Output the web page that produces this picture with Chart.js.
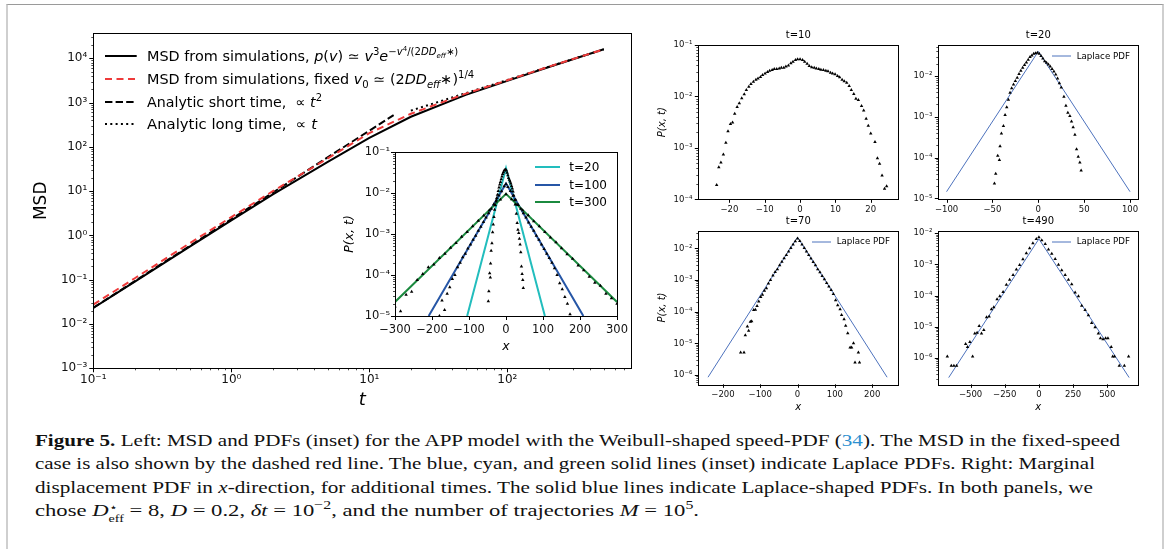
<!DOCTYPE html>
<html>
<head>
<meta charset="utf-8">
<title>Figure 5</title>
<script src="https://cdn.jsdelivr.net/npm/chart.js@4.4.1/dist/chart.umd.min.js"></script>
<style>
  html, body { margin: 0; padding: 0; background: #fff; }
  #fig { position: relative; width: 1165px; height: 549px; overflow: hidden; background: #fff; }
  #fig canvas { position: absolute; }
  #frame { position: absolute; left: 6px; top: 4px; width: 1154px; height: 620px;
           border-top: 1px solid #9a9a9a; border-left: 2px solid #cfcfcf; border-right: 2px solid #cfcfcf; }
  .lg { position: absolute; white-space: nowrap; font-family: "DejaVu Sans", sans-serif; color: #000; transform-origin: 0 50%; }
  .cap { position: absolute; left: 35px; white-space: nowrap; font-family: "Liberation Serif", serif;
         font-size: 17.5px; line-height: 22px; color: #111; transform-origin: 0 50%; }
  .cap .ref { color: #2b8fd0; }
  .cap .ss { display: inline-block; vertical-align: -0.55em; font-size: 0.62em; line-height: 1.05; }
  .cap .ss span { display: block; }
  sup, sub { font-size: 0.7em; line-height: 0; }
</style>
</head>
<body>
<div id="fig"><div id="frame"></div></div>
<script>
// ---- left panel: MSD vs t ----
const tSim = [0.1, 0.2, 0.5, 1, 2, 5, 10, 20, 50, 100, 200, 500];
const msdWeibull = [0.023, 0.091, 0.56, 2.2, 8.5, 46, 160, 480, 1500, 3100, 6400, 16000];
const msdFixed = [0.0275, 0.108, 0.67, 2.6, 10, 55, 205, 560, 1600, 3200, 6500, 16000];
const tShort = [0.1, 15];
const msdShort = [0.0233, 524];
const tLong = [20, 500];
const msdLong = [660, 16000];

// ---- inset: PDFs at t=20, 100, 300 ----
const lap20X = [-105, 0, 105], lap20Y = [1e-5, 0.040, 1e-5];
const lap100X = [-209, 0, 209], lap100Y = [1e-5, 0.017, 1e-5];
const lap300X = [-300, 0, 300], lap300Y = [2.2e-5, 0.0095, 2.2e-5];

const pdf20X = [-47.8, -46.4, -44.2, -42.4, -41.7, -40.2, -38.0, -36.2, -34.4, -32.6, -30.8, -29.0, -27.0, -25.0, -23.0,
  -21.0, -19.0, -17.0, -15.0, -13.0, -11.0, -9.0, -7.0, -5.0, -3.0, -1.0, 1.0, 3.0, 5.0, 7.0, 9.0, 11.0, 13.0, 15.0,
  17.0, 19.0, 21.0, 23.0, 25.0, 27.9, 30.1, 32.2, 34.4, 36.2, 38.0, 39.9, 41.7, 43.5, 45.3, 46.7];
const pdf20Y = [2.3e-5, 4.0e-5, 1.1e-4, 8.7e-5, 1.9e-4, 3.9e-4, 5.9e-4, 1.1e-3, 1.7e-3, 2.6e-3, 3.9e-3, 5.0e-3, 6.2e-3, 7.5e-3, 9.0e-3,
  0.0112, 0.0135, 0.016, 0.0185, 0.0215, 0.025, 0.029, 0.032, 0.035, 0.036, 0.037, 0.035, 0.031, 0.027, 0.023, 0.021, 0.019, 0.017, 0.0148,
  0.0128, 0.0108, 0.0087, 0.0066, 0.0052, 3.1e-3, 1.85e-3, 1.26e-3, 1.05e-3, 7.6e-4, 5.5e-4, 3.6e-4, 1.6e-4, 1.05e-4, 7.5e-5, 4.8e-5];

const pdf100X = [-180, -173, -166, -159, -152, -145, -138, -131, -124, -117, -110, -103, -96, -89, -82, -75, -68, -61, -54, -47,
  -40, -33, -26, -19, -12, -5, 0, 5, 12, 19, 26, 33, 40, 47, 54, 61, 68, 75, 82, 89, 96, 103, 110, 117, 124, 131, 138, 145,
  152, 159, 166, 173, 180];
const pdf100Y = [1.0e-5, 2.4e-5, 1.4e-5, 3.5e-5, 5.0e-5, 8.0e-5, 1.0e-4, 1.55e-4, 2.0e-4, 2.7e-4, 3.3e-4, 4.4e-4, 5.5e-4, 7.2e-4,
  9.0e-4, 1.2e-3, 1.5e-3, 1.95e-3, 2.5e-3, 3.2e-3, 4.1e-3, 5.3e-3, 6.6e-3, 8.7e-3, 0.011, 0.0145, 0.0165, 0.014, 0.0112, 8.5e-3,
  6.8e-3, 5.1e-3, 4.1e-3, 3.2e-3, 2.5e-3, 1.9e-3, 1.5e-3, 1.2e-3, 9.0e-4, 7.2e-4, 5.5e-4, 4.3e-4, 3.3e-4, 2.6e-4, 2.0e-4,
  1.45e-4, 1.0e-4, 6.3e-5, 4.5e-5, 2.9e-5, 2.0e-5, 1.1e-5, 8e-6];

const pdf300X = [-300, -285, -270, -255, -240, -225, -210, -195, -180, -165, -150, -135, -120, -105, -90, -75, -60, -45, -30, -15,
  0, 15, 30, 45, 60, 75, 90, 105, 120, 135, 150, 165, 180, 195, 210, 225, 240, 255, 270, 285, 300];
const pdf300Y = [1.7e-5, 1.3e-5, 3.3e-5, 3.9e-5, 7.5e-5, 1.05e-4, 1.55e-4, 1.8e-4, 2.6e-4, 3.3e-4, 4.6e-4, 6.0e-4, 8.6e-4, 1.12e-3,
  1.55e-3, 2.1e-3, 2.8e-3, 3.8e-3, 5.1e-3, 6.9e-3, 9.3e-3, 7.0e-3, 5.2e-3, 3.8e-3, 2.85e-3, 2.05e-3, 1.55e-3, 1.12e-3, 8.2e-4,
  6.3e-4, 4.5e-4, 3.2e-4, 2.5e-4, 1.7e-4, 1.3e-4, 9e-5, 6.5e-5, 5.5e-5, 3.5e-5, 2.7e-5, 2.0e-5];

// ---- right panels ----
const pdf10X = [-23.6, -23.0, -22.4, -21.7, -21.0, -20.4, -19.7, -19.1, -18.5, -17.8, -17.2, -16.5, -15.8, -15.2, -14.5, -13.9,
  -13.2, -12.5, -11.9, -11.2, -10.6, -9.9, -9.2, -8.6, -7.9, -7.3, -6.6, -5.9, -5.3, -4.6, -4.0, -3.3, -2.6, -2.0, -1.3, -0.7,
  0, 0.7, 1.3, 2.0, 2.6, 3.3, 4.0, 4.6, 5.3, 5.9, 6.6, 7.3, 7.9, 8.6, 9.2, 9.9, 10.6, 11.2, 11.9, 12.5, 13.2, 13.9, 14.5, 15.2,
  15.8, 16.5, 17.4, 18.0, 18.7, 19.3, 20.0, 21.2, 21.9, 22.5, 23.2, 23.9, 24.5];
const pdf10Y = [1.9e-4, 4.2e-4, 5.2e-4, 7.4e-4, 1.26e-3, 2.1e-3, 2.9e-3, 3.1e-3, 4.6e-3, 6.2e-3, 7.4e-3, 9.2e-3, 0.011, 0.0134,
  0.0155, 0.0175, 0.0194, 0.021, 0.0222, 0.024, 0.026, 0.028, 0.030, 0.0316, 0.0325, 0.034, 0.034, 0.035, 0.036, 0.036, 0.038,
  0.040, 0.044, 0.047, 0.051, 0.053, 0.053, 0.051, 0.047, 0.043, 0.039, 0.037, 0.036, 0.035, 0.034, 0.033, 0.0325, 0.0316,
  0.031, 0.029, 0.028, 0.027, 0.025, 0.0236, 0.021, 0.0197, 0.0185, 0.016, 0.0134, 0.0112, 0.009, 0.0085, 0.0065, 0.0053,
  0.0037, 0.0027, 0.0019, 0.0013, 6.3e-4, 4.9e-4, 2.9e-4, 1.6e-4, 1.8e-4];

const lapB_X = [-100, 0, 100], lapB_Y = [1.45e-5, 0.040, 1.45e-5];

const pdf70X = [-152.5, -143.5, -140, -134.5, -131, -126.5, -123, -117.5, -113, -108.5, -104, -98.7, -94, -88.8, -83.4, -78, -72.6,
  -66, -60, -54, -48, -42, -36, -30, -24, -18, -12, -6, 0, 6, 12, 18, 24, 30, 36, 42, 48, 54, 60, 66, 72, 78, 84, 90,
  96, 102, 107.6, 114, 118, 124.7, 129, 134.5, 140.8, 145, 150, 154, 163, 166];
const pdf70Y = [5.1e-6, 5.1e-6, 1.8e-5, 3.4e-5, 2.5e-5, 4.8e-5, 5.0e-5, 1.12e-4, 1.15e-4, 1.5e-4, 2.1e-4, 2.9e-4, 3.4e-4, 4.6e-4,
  5.5e-4, 7.8e-4, 1.0e-3, 1.4e-3, 1.8e-3, 2.2e-3, 2.9e-3, 3.8e-3, 4.9e-3, 6.2e-3, 8.0e-3, 0.0102, 0.0132, 0.0168, 0.0205,
  0.017, 0.0132, 0.0103, 8.0e-3, 6.2e-3, 4.8e-3, 3.7e-3, 2.9e-3, 2.2e-3, 1.75e-3, 1.35e-3, 1.05e-3, 8.0e-4, 6.2e-4, 4.8e-4,
  3.6e-4, 2.3e-4, 1.6e-4, 1.2e-4, 7.8e-5, 5.8e-5, 3.6e-5, 2.1e-5, 7.4e-6, 7.4e-6, 1.0e-5, 2.5e-6, 5.1e-6, 2.5e-6];
const lap70X = [-240, 0, 240], lap70Y = [8.5e-7, 0.0224, 8.5e-7];

const pdf490X = [-670, -641, -622, -602, -536, -522, -505, -485, -469, -452, -437, -420, -403, -383, -364, -347, -330, -306, -286,
  -262, -238, -214, -189, -165, -141, -117, -92, -68, -44, -19, 0, 21, 46, 70, 94, 119, 143, 167, 192, 216, 240, 265, 289, 313,
  338, 362, 386, 411, 435, 450, 469, 488, 505, 529, 540, 553, 588, 625, 656];
const pdf490Y = [1.1e-6, 5.5e-7, 5.5e-7, 5.5e-7, 2.75e-6, 2.2e-6, 3.2e-6, 1.1e-6, 6e-6, 6.3e-6, 1.05e-5, 6e-6, 7.8e-6, 2e-5,
  2.1e-5, 3.6e-5, 4.2e-5, 7.6e-5, 9.5e-5, 1.3e-4, 2.2e-4, 3.2e-4, 4.6e-4, 6.9e-4, 9.6e-4, 1.45e-3, 2.3e-3, 3.3e-3, 4.8e-3,
  6.6e-3, 7.5e-3, 6.0e-3, 4.5e-3, 3.0e-3, 2.2e-3, 1.5e-3, 9.8e-4, 6.5e-4, 4.6e-4, 3.2e-4, 2.3e-4, 1.25e-4, 9.5e-5, 4.7e-5,
  3.4e-5, 2.3e-5, 1.3e-5, 9.5e-6, 6e-6, 4.2e-6, 3.9e-6, 4.2e-6, 4.2e-6, 2.2e-6, 1.1e-6, 1.1e-6, 5.5e-7, 5.5e-7, 1.1e-6];
const lap490X = [-660, 0, 660], lap490Y = [2.3e-7, 0.0066, 2.3e-7];

// tick labels of the linear x axes
const insetTicks = [-300, -200, -100, 0, 100, 200, 300];
const ticksA = [-20, -10, 0, 10, 20];
const ticksB = [-100, -50, 0, 50, 100];
const ticksC = [-200, -100, 0, 100, 200];
const ticksD = [-500, -250, 0, 250, 500];

const fig = document.getElementById('fig');
const SUP = {'-': '⁻', '0': '⁰', '1': '¹', '2': '²', '3': '³', '4': '⁴', '5': '⁵', '6': '⁶', '7': '⁷', '8': '⁸', '9': '⁹'};

function powLabel(v) {
  const e = Math.log10(v), r = Math.round(e);
  if (Math.abs(e - r) > 1e-6) return '';
  return '10' + String(r).split('').map(c => SUP[c]).join('');
}
function linLabel(v) { return v < 0 ? '\u2212' + Math.abs(v) : String(v); }
function logTicks(min, max) {
  const out = [];
  for (let e = Math.floor(Math.log10(min)); e <= Math.ceil(Math.log10(max)); e++) {
    for (let m = 1; m < 10; m++) {
      const v = m * Math.pow(10, e);
      if (v >= min * 0.9999 && v <= max * 1.0001) out.push(v);
    }
  }
  return out;
}
function pts(xs, ys) { return xs.map((x, i) => ({x: x, y: ys[i]})); }

// draws the axes box and outward tick marks (matplotlib style)
const axesBox = {
  id: 'axesBox',
  beforeDraw(chart, args, o) {
    if (!o.fill) return;
    const {ctx, chartArea: a} = chart;
    ctx.save(); ctx.fillStyle = '#fff';
    ctx.fillRect(a.left, a.top, a.right - a.left, a.bottom - a.top);
    ctx.restore();
  },
  afterDraw(chart, args, o) {
    const {ctx, chartArea: a} = chart;
    ctx.save();
    ctx.strokeStyle = '#000';
    ctx.lineWidth = 1;
    ctx.strokeRect(Math.round(a.left) + 0.5, Math.round(a.top) + 0.5, Math.round(a.right - a.left), Math.round(a.bottom - a.top));
    ['x', 'y'].forEach(id => {
      const s = chart.scales[id];
      s.ticks.forEach(t => {
        const major = s.type !== 'logarithmic' || powLabel(t.value) !== '';
        const len = major ? o.major : o.minor;
        const p = Math.round(s.getPixelForValue(t.value)) + 0.5;
        ctx.lineWidth = major ? 1 : 0.7;
        ctx.beginPath();
        if (id === 'x') { ctx.moveTo(p, a.bottom); ctx.lineTo(p, a.bottom + len); }
        else { ctx.moveTo(a.left, p); ctx.lineTo(a.left - len, p); }
        ctx.stroke();
      });
    });
    ctx.restore();
  }
};
Chart.register(axesBox);

function makeChart(box, area, o) {
  const cv = document.createElement('canvas');
  cv.width = box.w; cv.height = box.h;
  cv.style.left = box.x + 'px'; cv.style.top = box.y + 'px';
  cv.style.width = box.w + 'px'; cv.style.height = box.h + 'px';
  fig.appendChild(cv);
  const L = area.l - box.x, T = area.t - box.y, R = area.r - box.x, B = area.b - box.y;

  let title = {display: false}, padTop = T;
  if (o.title) {
    const lh = o.title.size * 1.2, pt = o.title.y - box.y - lh / 2;
    title = {display: true, text: o.title.text, fullSize: false, color: '#000',
      font: {family: 'DejaVu Sans', size: o.title.size, weight: 'normal'},
      padding: {top: pt, bottom: T - lh - pt}};
    padTop = 0;
  }
  const tickFont = {family: 'DejaVu Sans', size: o.tick};
  const x = {
    type: o.xType, min: o.xMin, max: o.xMax, bounds: 'data',
    grid: {display: false, drawTicks: false}, border: {display: false},
    ticks: {autoSkip: false, maxRotation: 0, minRotation: 0, padding: o.xPad, color: '#111', font: tickFont,
      callback: o.xType === 'logarithmic' ? v => powLabel(v) : v => linLabel(v)},
    afterBuildTicks: s => { s.ticks = o.xTicks.map(v => ({value: v})); },
    afterFit: s => { s.height = box.h - B; },
    title: o.xTitle ? {display: true, text: o.xTitle.text, color: '#000',
      font: {family: 'DejaVu Sans', size: o.xTitle.size, style: o.xTitle.style || 'normal'},
      padding: {top: 0, bottom: box.h - (o.xTitle.y - box.y) - 0.6 * o.xTitle.size}} : {display: false}
  };
  const y = {
    type: 'logarithmic', min: o.yMin, max: o.yMax, bounds: 'data',
    grid: {display: false, drawTicks: false}, border: {display: false},
    ticks: {autoSkip: false, padding: o.yPad, color: '#111', font: tickFont, callback: v => powLabel(v)},
    afterBuildTicks: s => { s.ticks = logTicks(o.yMin, o.yMax).map(v => ({value: v})); },
    afterFit: s => { s.width = L; },
    title: o.yTitle ? {display: true, text: o.yTitle.text, color: '#000',
      font: {family: 'DejaVu Sans', size: o.yTitle.size, style: o.yTitle.style || 'normal'},
      padding: {top: o.yTitle.x - box.x - 0.6 * o.yTitle.size, bottom: 0}} : {display: false}
  };
  return new Chart(cv, {
    type: 'line',
    data: {datasets: o.datasets},
    options: {
      responsive: false, animation: false, devicePixelRatio: 1,
      layout: {padding: {left: 0, top: padTop, right: box.w - R, bottom: 0}},
      plugins: {legend: {display: false}, tooltip: {enabled: false}, title: title,
        axesBox: {major: o.major, minor: o.minor, fill: !!o.fill}},
      scales: {x: x, y: y}
    }
  });
}

function lineSet(xs, ys, color, width, dash, order) {
  return {data: pts(xs, ys), borderColor: color, borderWidth: width, borderDash: dash || [], pointRadius: 0,
    tension: 0, fill: false, order: order || 0};
}
function markSet(xs, ys, r) {
  return {data: pts(xs, ys), showLine: false, pointStyle: 'triangle', pointRadius: r, pointBackgroundColor: '#000',
    pointBorderWidth: 0, borderColor: '#000', order: 0};
}

// ---- main MSD chart ----
makeChart({x: 20, y: 0, w: 640, h: 420}, {l: 93.3, t: 33.3, r: 631.3, b: 368.3}, {
  xType: 'logarithmic', xMin: 0.1, xMax: 791, xTicks: logTicks(0.1, 791),
  yMin: 1e-3, yMax: 3.68e4, tick: 12, xPad: 4.5, yPad: 6, major: 4, minor: 2,
  yTitle: {text: 'MSD', x: 42, size: 17},
  xTitle: {text: 't', y: 400, size: 18, style: 'italic'},
  datasets: [
    lineSet(tSim, msdWeibull, '#000', 2, [], 3),
    lineSet(tSim, msdFixed, '#ee3a3a', 2, [7, 4.5], 0),
    lineSet(tShort, msdShort, '#000', 2, [7.4, 3.2], 1),
    lineSet(tLong, msdLong, '#000', 2, [2, 3.3], 2)
  ]
});

// ---- inset ----
makeChart({x: 340, y: 140, w: 295, h: 225}, {l: 395, t: 151.7, r: 618.3, b: 316}, {
  xType: 'linear', xMin: -300, xMax: 300, xTicks: insetTicks,
  yMin: 1e-5, yMax: 0.1, tick: 11.5, xPad: 7, yPad: 5, major: 4, minor: 2, fill: true,
  yTitle: {text: 'P(x, t)', x: 350, size: 12.5, style: 'italic'},
  xTitle: {text: 'x', y: 346.7, size: 12.5, style: 'italic'},
  datasets: [
    markSet(pdf20X, pdf20Y, 2),
    markSet(pdf100X, pdf100Y, 2),
    markSet(pdf300X, pdf300Y, 2),
    lineSet(lap20X, lap20Y, '#22bdbd', 2, [], 3),
    lineSet(lap100X, lap100Y, '#2656a6', 2, [], 2),
    lineSet(lap300X, lap300Y, '#1b8a3f', 2, [], 1)
  ]
});

// ---- right panels ----
const lapColor = '#4d72bd';
makeChart({x: 655, y: 20, w: 250, h: 200}, {l: 698.3, t: 45, r: 898.3, b: 199.3}, {
  xType: 'linear', xMin: -28.8, xMax: 27.8, xTicks: ticksA,
  yMin: 1e-4, yMax: 0.1, tick: 8.5, xPad: 5.5, yPad: 6, major: 3.5, minor: 2,
  title: {text: 't=10', y: 35, size: 10},
  yTitle: {text: 'P(x, t)', x: 662.5, size: 10, style: 'italic'},
  datasets: [markSet(pdf10X, pdf10Y, 2)]
});
makeChart({x: 895, y: 20, w: 258, h: 200}, {l: 938.3, t: 45, r: 1138.3, b: 199.3}, {
  xType: 'linear', xMin: -109, xMax: 109, xTicks: ticksB,
  yMin: 9.45e-6, yMax: 0.0575, tick: 8.5, xPad: 5.5, yPad: 6, major: 3.5, minor: 2,
  title: {text: 't=20', y: 35, size: 10},
  datasets: [markSet(pdf20X, pdf20Y, 2), lineSet(lapB_X, lapB_Y, lapColor, 1, [], 1)]
});
makeChart({x: 655, y: 205, w: 250, h: 215}, {l: 698.3, t: 230.7, r: 898.3, b: 384.3}, {
  xType: 'linear', xMin: -266, xMax: 270, xTicks: ticksC,
  yMin: 5.08e-7, yMax: 0.0361, tick: 8.5, xPad: 5.5, yPad: 6, major: 3.5, minor: 2,
  title: {text: 't=70', y: 221, size: 10},
  yTitle: {text: 'P(x, t)', x: 662.5, size: 10, style: 'italic'},
  xTitle: {text: 'x', y: 407.3, size: 10, style: 'italic'},
  datasets: [markSet(pdf70X, pdf70Y, 2), lineSet(lap70X, lap70Y, lapColor, 1, [], 1)]
});
makeChart({x: 895, y: 205, w: 258, h: 215}, {l: 938.3, t: 230.7, r: 1138.3, b: 384.3}, {
  xType: 'linear', xMin: -736, xMax: 727, xTicks: ticksD,
  yMin: 1.4e-7, yMax: 0.0121, tick: 8.5, xPad: 5.5, yPad: 6, major: 3.5, minor: 2,
  title: {text: 't=490', y: 221, size: 10},
  xTitle: {text: 'x', y: 407.3, size: 10, style: 'italic'},
  datasets: [markSet(pdf490X, pdf490Y, 2), lineSet(lap490X, lap490Y, lapColor, 1, [], 1)]
});

// ---- legends and caption (HTML text) ----
function sample(x1, x2, y, color, width, dash) {
  fig.insertAdjacentHTML('beforeend',
    `<svg style="position:absolute;left:${x1}px;top:${y - 4}px" width="${x2 - x1}" height="8">` +
    `<line x1="0" y1="4" x2="${x2 - x1}" y2="4" stroke="${color}" stroke-width="${width}"` +
    (dash ? ` stroke-dasharray="${dash}"` : '') + `/></svg>`);
}
function text(html, x, cy, size, target, cls) {
  const d = document.createElement('div');
  d.className = cls || 'lg';
  d.innerHTML = html;
  d.style.left = x + 'px';
  d.style.fontSize = size + 'px';
  d.style.lineHeight = Math.round(size * 1.3) + 'px';
  d.style.top = (cy - Math.round(size * 1.3) / 2) + 'px';
  fig.appendChild(d);
  if (target) d.style.transform = `scaleX(${target / d.getBoundingClientRect().width})`;
  return d;
}

const mainLegend = [
  {html: 'MSD from simulations, <i>p</i>(<i>v</i>) ≃ <i>v</i><sup>3</sup><i>e</i><sup>−<i>v</i><sup>4</sup>/(2<i>DD</i><sub><i>eff</i></sub>∗)</sup>', y: 56, end: 458, color: '#000', dash: ''},
  {html: 'MSD from simulations, fixed <i>v</i><sub>0</sub> ≃ (2<i>DD</i><sub><i>eff</i></sub>∗)<sup>1/4</sup>', y: 78.7, end: 474, color: '#ee3a3a', dash: '7,4.5'},
  {html: 'Analytic short time, &nbsp;∝ <i>t</i><sup>2</sup>', y: 101.7, end: 321.7, color: '#000', dash: '7.4,3.2'},
  {html: 'Analytic long time, &nbsp;∝ <i>t</i>', y: 124, end: 316.7, color: '#000', dash: '2,3.3'}
];
mainLegend.forEach(r => {
  sample(105, 136.7, r.y, r.color, 2, r.dash);
  text(r.html, 146.7, r.y, 14, r.end - 146.7);
});

const insetLegend = [
  {label: 't=20', y: 166.7, color: '#22bdbd'},
  {label: 't=100', y: 185, color: '#2656a6'},
  {label: 't=300', y: 201.7, color: '#1b8a3f'}
];
insetLegend.forEach(r => {
  sample(535, 560, r.y, r.color, 2, '');
  text(r.label, 569.3, r.y, 12);
});

[[1051.7, 56], [811.7, 241.7], [1051.7, 241.7]].forEach(([x, y]) => {
  sample(x, x + 19, y, lapColor, 1, '');
  text('Laplace PDF', x + 25, y, 8.7);
});

const caption = [
  '<b>Figure 5.</b> Left: MSD and PDFs (inset) for the APP model with the Weibull-shaped speed-PDF (<span class="ref">34</span>). The MSD in the fixed-speed',
  'case is also shown by the dashed red line. The blue, cyan, and green solid lines (inset) indicate Laplace PDFs. Right: Marginal',
  'displacement PDF in <i>x</i>-direction, for additional times. The solid blue lines indicate Laplace-shaped PDFs. In both panels, we',
  'chose <i>D</i><span class="ss"><span>⋆</span><span>eff</span></span> = 8, <i>D</i> = 0.2, <i>δt</i> = 10<sup>−2</sup>, and the number of trajectories <i>M</i> = 10<sup>5</sup>.'
];
const captionY = [440, 463.5, 487, 510.5];
const captionW = [1085, 1060, 1058, 664];
caption.forEach((html, i) => text(html, 35, captionY[i], 17.5, captionW[i], 'cap'));
</script>
</body>
</html>
